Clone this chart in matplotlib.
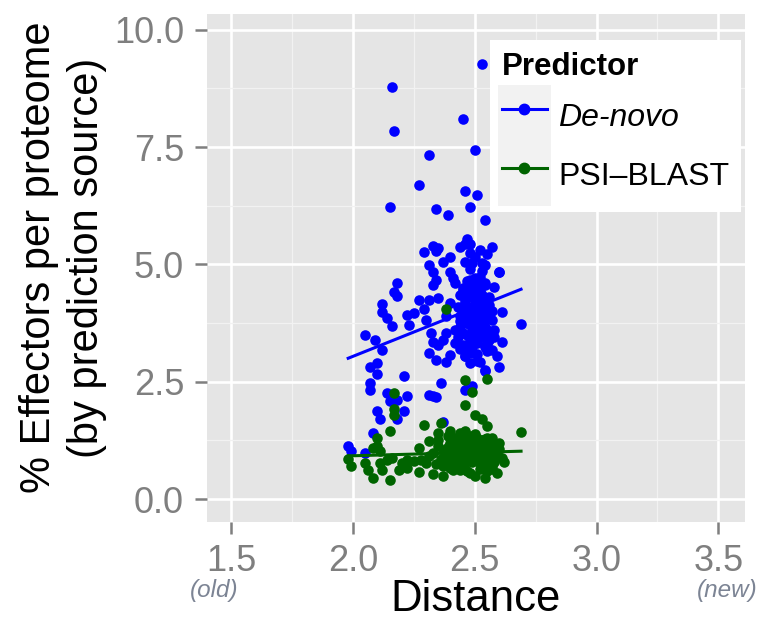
import numpy as np
import matplotlib.pyplot as plt
from matplotlib.lines import Line2D
from matplotlib.patches import Rectangle
from matplotlib.legend_handler import HandlerLine2D

plt.rcParams['font.family'] = ['Liberation Sans', 'DejaVu Sans']

# -- values
denovo_x = [2.53, 2.16, 2.45, 2.17, 2.31, 2.50, 2.27, 2.46, 2.51, 2.15, 2.34, 2.39, 2.48, 2.54, 2.47,
            2.29, 2.33, 2.35, 2.34, 2.40, 2.37, 2.44, 2.46, 2.48, 2.55, 2.57, 2.31, 2.33, 2.34, 2.33,
            2.40, 2.41, 2.46, 2.49, 2.53, 2.54, 2.60, 2.18, 2.17, 2.18, 2.27, 2.31, 2.35, 2.29, 2.25,
            2.22, 2.23, 2.30, 2.12, 2.12, 2.14, 2.16, 2.05, 2.09, 2.12, 2.07, 2.10, 2.10, 2.21, 2.32,
            2.33, 2.35, 2.31, 2.34, 2.38, 2.40, 2.46, 2.48, 2.49, 2.52, 2.54, 2.60, 2.61, 2.69, 2.58,
            2.60, 2.58, 2.61, 2.57, 2.59, 2.54, 2.52, 2.56, 2.54, 2.50, 2.53, 2.48, 2.45, 2.42, 2.44,
            2.46, 2.49, 2.50, 2.48, 2.45, 2.42, 2.38, 2.40, 2.52, 2.48, 2.51, 2.56, 2.54, 2.52, 2.44,
            2.45, 2.42, 2.50, 2.54, 2.57, 2.49, 2.46, 2.52, 2.48, 2.44, 2.38, 2.37,
            2.47, 2.49, 2.51, 2.53, 2.50, 2.52, 2.48, 2.50, 2.53, 2.49, 2.51, 2.47, 2.53, 2.55, 2.55,
            2.47, 2.49, 2.51, 2.46, 2.52, 2.50, 2.48, 2.45, 2.44, 2.56, 2.55, 2.51, 2.47, 2.43, 2.43,
            2.46, 2.48, 2.50, 2.52, 2.54, 2.56, 2.47, 2.49, 2.51, 2.53, 2.55, 2.46, 2.48, 2.50, 2.52,
            2.54, 2.49, 2.51, 2.53, 2.47, 2.45, 2.57, 2.58, 2.50, 2.52, 2.48, 2.44, 2.46, 2.55, 2.51,
            2.07, 2.07, 2.14, 2.16, 2.22, 2.31, 2.34, 2.36, 2.46, 2.49,
            2.15, 2.18, 2.21, 2.10, 2.11, 2.18, 2.08, 1.98, 1.99, 2.05, 2.33, 2.37, 2.47, 2.54]
denovo_y = [9.26, 8.78, 8.09, 7.85, 7.34, 7.43, 6.69, 6.56, 6.48, 6.22, 6.17, 6.05, 6.22, 5.94, 5.53,
            5.27, 5.39, 5.34, 5.29, 5.16, 5.06, 5.38, 5.43, 5.43, 5.23, 5.36, 4.99, 4.84, 4.67, 4.56,
            4.84, 4.70, 5.06, 5.02, 5.02, 4.99, 4.83, 4.61, 4.42, 4.33, 4.24, 4.24, 4.28, 4.04, 3.96,
            3.92, 3.71, 3.82, 4.16, 3.99, 3.85, 3.69, 3.50, 3.39, 3.18, 2.82, 2.89, 2.67, 2.63, 3.53,
            3.35, 3.28, 3.12, 2.96, 2.93, 3.07, 3.04, 2.89, 3.11, 2.93, 2.75, 2.82, 3.99, 3.73, 4.52,
            4.84, 3.60, 3.34, 3.18, 3.04, 4.60, 4.45, 4.13, 3.82, 3.67, 3.46, 3.39, 3.28, 3.60, 3.89,
            4.17, 4.31, 4.03, 3.82, 4.45, 4.60, 3.89, 4.17, 4.74, 4.67, 3.32, 3.39, 3.25, 3.96, 3.67,
            3.53, 3.32, 3.53, 3.67, 3.82, 3.89, 4.03, 4.17, 4.49, 4.35, 3.53, 3.39,
            4.00, 4.10, 4.20, 4.10, 3.90, 3.80, 3.70, 3.60, 3.70, 4.40, 4.50, 4.30, 4.35, 4.00, 3.60,
            3.50, 3.45, 3.95, 3.85, 4.55, 4.70, 4.90, 3.95, 3.80, 3.50, 3.30, 3.10, 3.20, 3.45, 4.10,
            4.25, 4.45, 4.60, 4.40, 4.25, 4.30, 3.75, 3.55, 3.35, 3.55, 3.85, 4.15, 4.05, 4.25, 3.65,
            4.55, 3.25, 3.75, 4.85, 4.65, 4.50, 4.00, 3.45, 5.15, 5.30, 5.25, 3.20, 3.05, 3.15, 2.95,
            2.47, 2.33, 2.26, 2.18, 2.20, 2.22, 2.18, 2.47, 2.33, 2.40,
            2.09, 2.12, 1.87, 1.87, 1.70, 1.70, 1.41, 1.13, 1.02, 0.99, 2.19, 1.64, 2.34, 2.73]

psi_x = [2.38, 2.46, 2.55, 2.49, 2.17, 2.17, 2.17, 2.46, 2.50, 2.53, 2.55, 2.69, 2.29, 2.36, 2.15,
         2.10, 2.08, 2.27, 2.31, 2.35, 2.40, 1.98, 1.99, 2.05, 2.06, 2.08, 2.15, 2.12, 2.16, 2.20,
         2.22, 2.25, 2.27, 2.30, 2.33, 2.37, 2.40, 2.42, 2.48, 2.50, 2.54, 2.59, 2.60, 2.61, 2.57,
         2.45, 2.48, 2.50, 2.54, 2.57, 2.35, 2.38, 2.33, 2.42, 2.45, 2.49, 2.53, 2.56, 2.46, 2.52,
         2.40, 2.31, 2.34, 2.50, 2.53, 2.46, 2.44, 2.41, 2.59, 2.54, 2.44, 2.37, 2.28, 2.11, 2.14,
         2.19, 2.22, 2.10, 2.11,
         2.42, 2.44, 2.46, 2.48, 2.50, 2.52, 2.54, 2.56, 2.47, 2.51, 2.53, 2.49, 2.45, 2.43, 2.55,
         2.58, 2.39, 2.36, 2.41, 2.57,
         2.40, 2.42, 2.44, 2.46, 2.48, 2.50, 2.52, 2.54, 2.56, 2.58, 2.38, 2.41, 2.43, 2.45, 2.47,
         2.49, 2.51, 2.53, 2.55, 2.57, 2.35, 2.37, 2.39, 2.60, 2.62, 2.44, 2.48, 2.52, 2.46, 2.50]
psi_y = [4.05, 2.54, 2.56, 2.28, 2.27, 1.91, 1.80, 2.00, 1.80, 1.70, 1.56, 1.43, 1.57, 1.63, 1.44,
         1.31, 1.09, 1.08, 1.24, 1.41, 1.45, 0.85, 0.70, 0.77, 0.63, 0.45, 0.40, 0.63, 0.88, 0.77,
         0.67, 0.81, 0.58, 0.77, 0.53, 0.49, 0.67, 0.77, 0.56, 0.49, 0.45, 0.56, 1.06, 0.88, 0.70,
         1.27, 1.34, 1.38, 1.27, 1.16, 1.13, 0.99, 0.99, 1.06, 0.92, 0.99, 0.92, 0.99, 0.77, 0.77,
         0.88, 0.92, 0.74, 1.13, 1.10, 1.13, 1.24, 1.20, 0.92, 0.70, 0.63, 0.70, 0.84, 0.77, 0.84,
         0.63, 0.84, 1.13, 1.02,
         0.95, 1.05, 0.88, 1.15, 0.95, 1.05, 0.85, 1.20, 1.25, 1.30, 1.25, 0.80, 1.18, 0.75, 0.60,
         0.80, 1.10, 0.85, 0.62, 1.30,
         1.20, 1.30, 1.40, 1.35, 1.05, 0.85, 0.65, 1.15, 0.90, 1.10, 0.75, 1.00, 0.90, 0.70, 0.60,
         1.22, 1.10, 0.98, 1.30, 0.65, 1.25, 1.05, 1.35, 1.20, 0.78, 1.12, 0.95, 0.82, 1.45, 1.20]

# linear fits, end points
fit_x = [1.98, 2.69]
fit_denovo = [3.00, 4.47]
fit_psi = [0.92, 1.02]

blue = '#0000ff'
green = '#006400'
grey = '#7f7f7f'


class KeyHandler(HandlerLine2D):
    # ggplot-style legend key: light grey box behind the line
    def create_artists(self, legend, orig_handle, xdescent, ydescent,
                       width, height, fontsize, trans):
        arts = super().create_artists(legend, orig_handle, xdescent, ydescent,
                                      width, height, fontsize, trans)
        padx = 0.1*width
        pady = 0.12*height
        bg = Rectangle((-xdescent - padx, -ydescent - pady),
                       width + 2*padx, height + 2*pady,
                       facecolor='#f2f2f2', edgecolor='none', transform=trans)
        return [bg] + arts


fig = plt.figure(figsize=(7.61, 6.23), dpi=100)
ax = fig.add_axes([0.272, 0.162, 0.707, 0.816])
ax.set_facecolor('#e5e5e5')

ax.scatter(denovo_x, denovo_y, s=58, color=blue, linewidths=0, zorder=3)
ax.scatter(psi_x, psi_y, s=58, color=green, linewidths=0, zorder=3)
ax.plot(fit_x, fit_denovo, color=blue, lw=2.2, zorder=4)
ax.plot(fit_x, fit_psi, color=green, lw=2.2, zorder=4)

ax.set(xlim=(1.40, 3.61), ylim=(-0.49, 10.34))
ax.set_xticks([1.5, 2.0, 2.5, 3.0, 3.5])
ax.set_xticklabels(['1.5', '2.0', '2.5', '3.0', '3.5'])
ax.set_yticks([0.0, 2.5, 5.0, 7.5, 10.0])
ax.set_yticklabels(['0.0', '2.5', '5.0', '7.5', '10.0'])
ax.set_xticks([1.75, 2.25, 2.75, 3.25], minor=True)
ax.set_yticks([1.25, 3.75, 6.25, 8.75], minor=True)
ax.grid(which='major', color='white', lw=1.9)
ax.grid(which='minor', color='#f2f2f2', lw=0.9)
ax.set_axisbelow(True)
for s in ax.spines.values():
    s.set_visible(False)
ax.tick_params(which='major', length=8.5, width=1.8, color=grey,
               labelcolor=grey, labelsize=26)
ax.tick_params(axis='x', pad=7)
ax.tick_params(axis='y', pad=8)
ax.tick_params(which='minor', length=0)

ax.set_xlabel('Distance', fontsize=31.5, labelpad=0)
ax.set_ylabel('% Effectors per proteome\n(by prediction source)', fontsize=30,
              linespacing=1.25)
ax.yaxis.set_label_coords(-0.186, 0.52)

fig.text(0.281, 0.052, '(old)', fontsize=17.5, style='italic', color='#7c8494',
         ha='center', va='center')
fig.text(0.955, 0.052, '(new)', fontsize=17.5, style='italic', color='#7c8494',
         ha='center', va='center')

handles = [Line2D([], [], color=blue, lw=2.2, marker='o', ms=7.5),
           Line2D([], [], color=green, lw=2.2, marker='o', ms=7.5)]
leg = ax.legend(handles, ['De-novo', 'PSI\u2013BLAST'], title='Predictor',
                loc='upper right', bbox_to_anchor=(0.993, 0.949), borderaxespad=0,
                fontsize=23, title_fontsize=22.5, alignment='left',
                handlelength=1.4, handleheight=2.0, labelspacing=0.3,
                handletextpad=0.35, borderpad=0.38, frameon=True, fancybox=False,
                handler_map={Line2D: KeyHandler()})
leg.get_frame().set_facecolor('white')
leg.get_frame().set_edgecolor('none')
leg.get_frame().set_alpha(1)
leg.get_title().set_fontweight('bold')
leg.get_texts()[0].set_fontstyle('italic')

fig.savefig('out.png', dpi=100)
